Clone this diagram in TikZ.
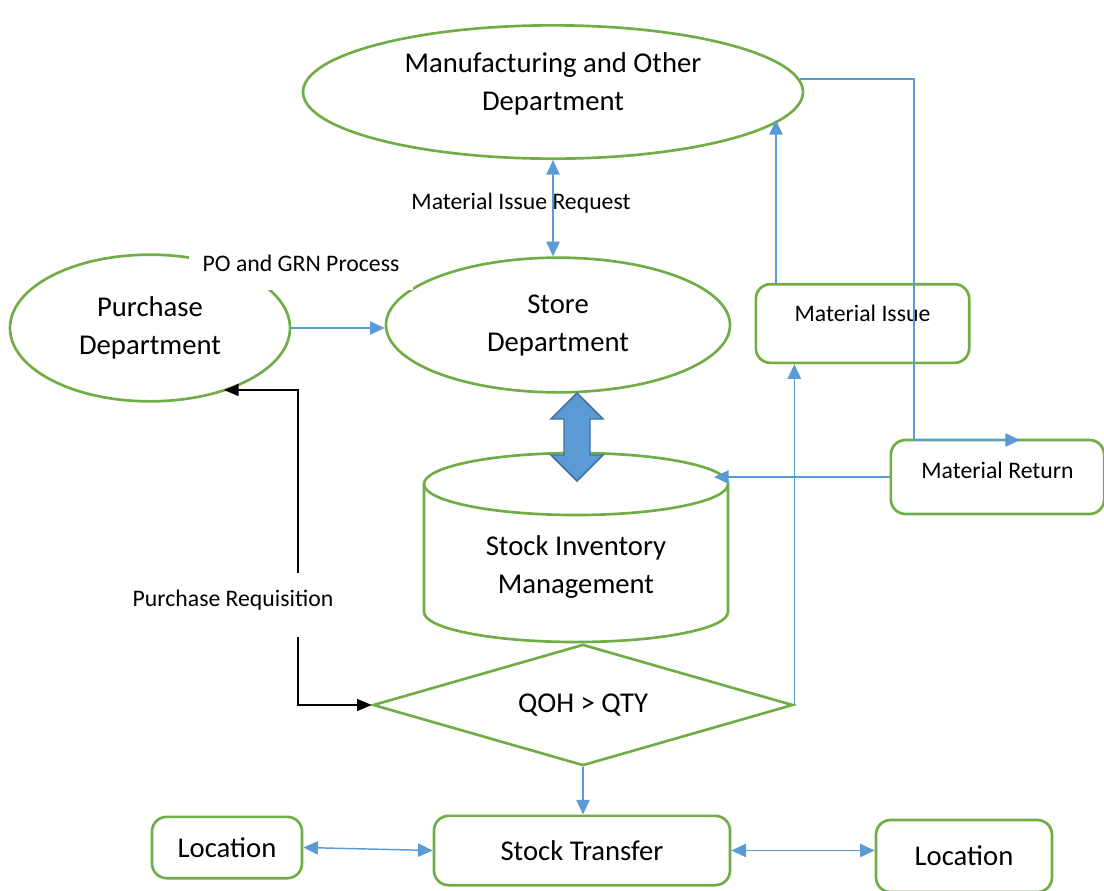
\documentclass[tikz,border=0pt]{standalone}
\usepackage{fontspec}
\setmainfont{Carlito}
\usetikzlibrary{shapes.geometric,arrows.meta,calc}
\definecolor{grn}{HTML}{70AD47}
\definecolor{blu}{HTML}{5B9BD5}
\definecolor{bdark}{HTML}{41719C}
\begin{document}
\begin{tikzpicture}[x=0.75pt,y=-0.75pt,
  bigfont/.style={font=\fontsize{21.5}{28.5}\selectfont},
  smallfont/.style={font=\fontsize{17.8}{23}\selectfont},
  shapebox/.style={draw=grn, line width=2pt, fill=white, align=center, inner sep=0pt, bigfont},
  oval/.style={shapebox, ellipse},
  rbox/.style={shapebox, rectangle, rounded corners=11pt},
  conn/.style={draw=blu, line width=1.1pt, -{Triangle[length=11pt,width=10pt]}},
  conn2/.style={draw=blu, line width=1.1pt, {Triangle[length=11pt,width=10pt]}-{Triangle[length=11pt,width=10pt]}},
  blk/.style={draw=black, line width=1.1pt, {Triangle[length=11pt,width=9pt]}-{Triangle[length=11pt,width=9pt]}},
  lbl/.style={smallfont, inner sep=0pt}
]
\useasboundingbox (0,0) rectangle (1104,890);

% ellipses
\node[oval, minimum width=375pt, minimum height=100pt, text depth=16pt] (mfg) at (553,92) {Manufacturing and Other\\Department};
\node[oval, minimum width=210pt, minimum height=110pt] (pur) at (150,328) {Purchase\\Department};
\node[oval, minimum width=258pt, minimum height=101pt] (sto) at (558,325) {Store\\Department};

% rounded boxes
\node[rbox, smallfont, minimum width=160pt, minimum height=59pt, text depth=15pt] (mi) at (862.5,323.5) {Material Issue};
\node[rbox, smallfont, minimum width=160pt, minimum height=55.5pt, text depth=10.5pt] (mr) at (997.5,477) {Material Return};
\node[rbox, minimum width=222pt, minimum height=52pt] (st) at (582,850.5) {Stock Transfer};
\node[rbox, minimum width=112.5pt, minimum height=46pt] (locl) at (227,847.5) {Location};
\node[rbox, minimum width=132pt, minimum height=54pt] (locr) at (964,856) {Location};

% diamond
\node[shapebox, diamond, aspect=3.46, minimum width=315pt, minimum height=91pt] (q) at (583,705) {QOH > QTY};

% cylinder
\filldraw[draw=grn, fill=white, line width=2pt] (424,484) -- (424,612) arc[start angle=180, end angle=360, x radius=114pt, y radius=22.5pt] -- (728,484);
\filldraw[draw=grn, fill=white, line width=2pt] (576,484) ellipse[x radius=114pt, y radius=23.25pt];
\node[bigfont, align=center, inner sep=0pt] (sim) at (576,567) {Stock Inventory\\Management};
\coordinate (cylr) at (714,474);

% block double arrow
\filldraw[fill=blu, draw=bdark, line width=1.1pt, line join=miter]
  (577,393) -- (603,419) -- (590,419) -- (590,455) -- (603,455) -- (577,481)
  -- (551,455) -- (564,455) -- (564,419) -- (551,419) -- cycle;

% coordinates
\coordinate (mfgin) at (776,120);
\coordinate (rt) at (914,440);
\coordinate (mrin) at (1020,440);
\coordinate (purin) at (224,390);
\coordinate (pr) at (298,390);

% connectors
\draw[conn] (pur.east) -- (pur.east -| sto.west);
\draw[conn2] (mfg.south) -- (mfg.south |- sto.north);
\draw[conn] (mi.north -| mfgin) -- (mfgin);
\draw[conn] (mfg.3) -| (rt) -- (mrin);
\draw[conn] (mr.west) -- (mr.west -| cylr);
\draw[conn] (q.east) -- (q.east |- mi.south);
\draw[conn] (q.south) -- (q.south |- st.north);
\draw[conn2] (locl.east) -- (st.west);
\draw[conn2] (st.east) -- (st.east -| locr.west);
\draw[blk] (purin) -- (pr) |- (q.west);

% labels
\node[lbl] (mirq) at (521,203) {Material Issue Request};
\node[lbl, fill=white, minimum width=168pt, minimum height=34pt, text depth=6pt] (pogrn) at (301,267) {PO and GRN Process};
\node[lbl, fill=white, inner xsep=2pt, minimum height=48pt, text depth=10pt] (prq) at (233,605) {Purchase Requisition};
\end{tikzpicture}
\end{document}
